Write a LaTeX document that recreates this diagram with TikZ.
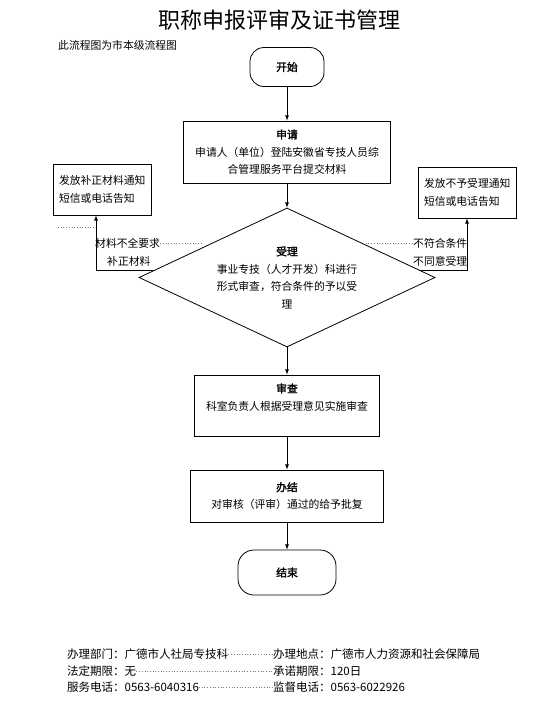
\documentclass[tikz,border=0pt]{standalone}
\usepackage{fontspec}
\setmainfont{Noto Sans CJK SC}[AutoFakeBold=2]
\usetikzlibrary{shapes,arrows,positioning,calc}

\begin{document}
\begin{tikzpicture}[
            x=1pt, y=-1pt,
            every node/.style={font=\fontsize{10.8}{17.5}\selectfont, inner sep=0pt},
            box/.style={rectangle, draw, line width=0.8pt, align=center},
            term/.style={rectangle, rounded corners=14pt, draw, line width=0.8pt},
            note/.style={rectangle, draw, line width=0.8pt, align=left, text width=86pt, minimum width=98pt, minimum height=51pt},
            arr/.style={-latex, line width=0.8pt},
            tab/.style={dotted, line width=0.7pt, gray},
            foot/.style={anchor=west, font=\fontsize{11.5}{14}\selectfont}
        ]
            \useasboundingbox (0,0) rectangle (535,710);
            % title and remark
            \node[font=\fontsize{22}{22}\selectfont] (title) at (279,20) {职称申报评审及证书管理};
            \node[anchor=west] (remark) at (58,45) {此流程图为市本级流程图};

            % main column
            \node[term, minimum width=74pt, minimum height=39pt] (start) at (287,67) {\textbf{开始}};
            \node[box, minimum width=207pt, minimum height=62pt] (apply) at (287,152)
                {\textbf{申请}\\申请人（单位）登陆安徽省专技人员综\\合管理服务平台提交材料};
            \node[diamond, draw, line width=0.8pt, aspect=2.13, minimum width=296pt, minimum height=139pt, align=center] (accept) at (287,277.5)
                {\textbf{受理}\\事业专技（人才开发）科进行\\形式审查，符合条件的予以受\\理};
            \node[box, minimum width=185pt, minimum height=61pt] (check) at (287,405.5)
                {\textbf{审查}\\科室负责人根据受理意见实施审查\\~};
            \node[box, minimum width=193pt, minimum height=52pt] (finish) at (287,496)
                {\textbf{办结}\\对审核（评审）通过的给予批复};
            \node[term, rounded corners=16pt, minimum width=98pt, minimum height=45pt] (end) at (287,572.5) {\textbf{结束}};

            % side notices
            \node[note] (fixnote) at (102,189.5) {发放补正材料通知\\短信或电话告知};
            \node[note] (rejnote) at (467,192.5) {发放不予受理通知\\短信或电话告知};

            \node[anchor=west] (lack) at (95,243) {材料不全要求};
            \node[anchor=west] (fix) at (107,261) {补正材料};
            \node[anchor=west] (nofit) at (413,243) {不符合条件};
            \node[anchor=west] (refuse) at (413,261) {不同意受理};

            \draw[arr] (start) -- (apply);
            \draw[arr] (apply) -- (accept);
            \draw[arr] (accept) -- (check);
            \draw[arr] (check) -- (finish);
            \draw[arr] (finish) -- (end);
            \draw[arr] (accept.177) -| ([xshift=-6pt]fixnote.south);
            \draw[arr] (accept.3) -| (rejnote.south);

            % tab leaders
            \coordinate (tabL) at (201,243);
            \coordinate (tabR) at (363,243);
            \coordinate (tabA) at (58,227);
            \coordinate (tabB) at (94,227);
            \draw[tab] (lack.east) -- (tabL);
            \draw[tab] (tabR) -- (nofit.west);
            \draw[tab] (tabA) -- (tabB);

            % footer
            \node[foot] (dept) at (67,654) {办理部门：广德市人社局专技科};
            \node[foot] (place) at (273,654) {办理地点：广德市人力资源和社会保障局};
            \node[foot] (legal) at (67,671) {法定期限：无};
            \node[foot] (promise) at (273,671) {承诺期限：120日};
            \node[foot] (tel) at (67,687) {服务电话：0563-6040316};
            \node[foot] (super) at (273,687) {监督电话：0563-6022926};
            \draw[tab] (dept) -- (place);
            \draw[tab] (legal) -- (promise);
            \draw[tab] (tel) -- (super);
        \end{tikzpicture}
\end{document}
